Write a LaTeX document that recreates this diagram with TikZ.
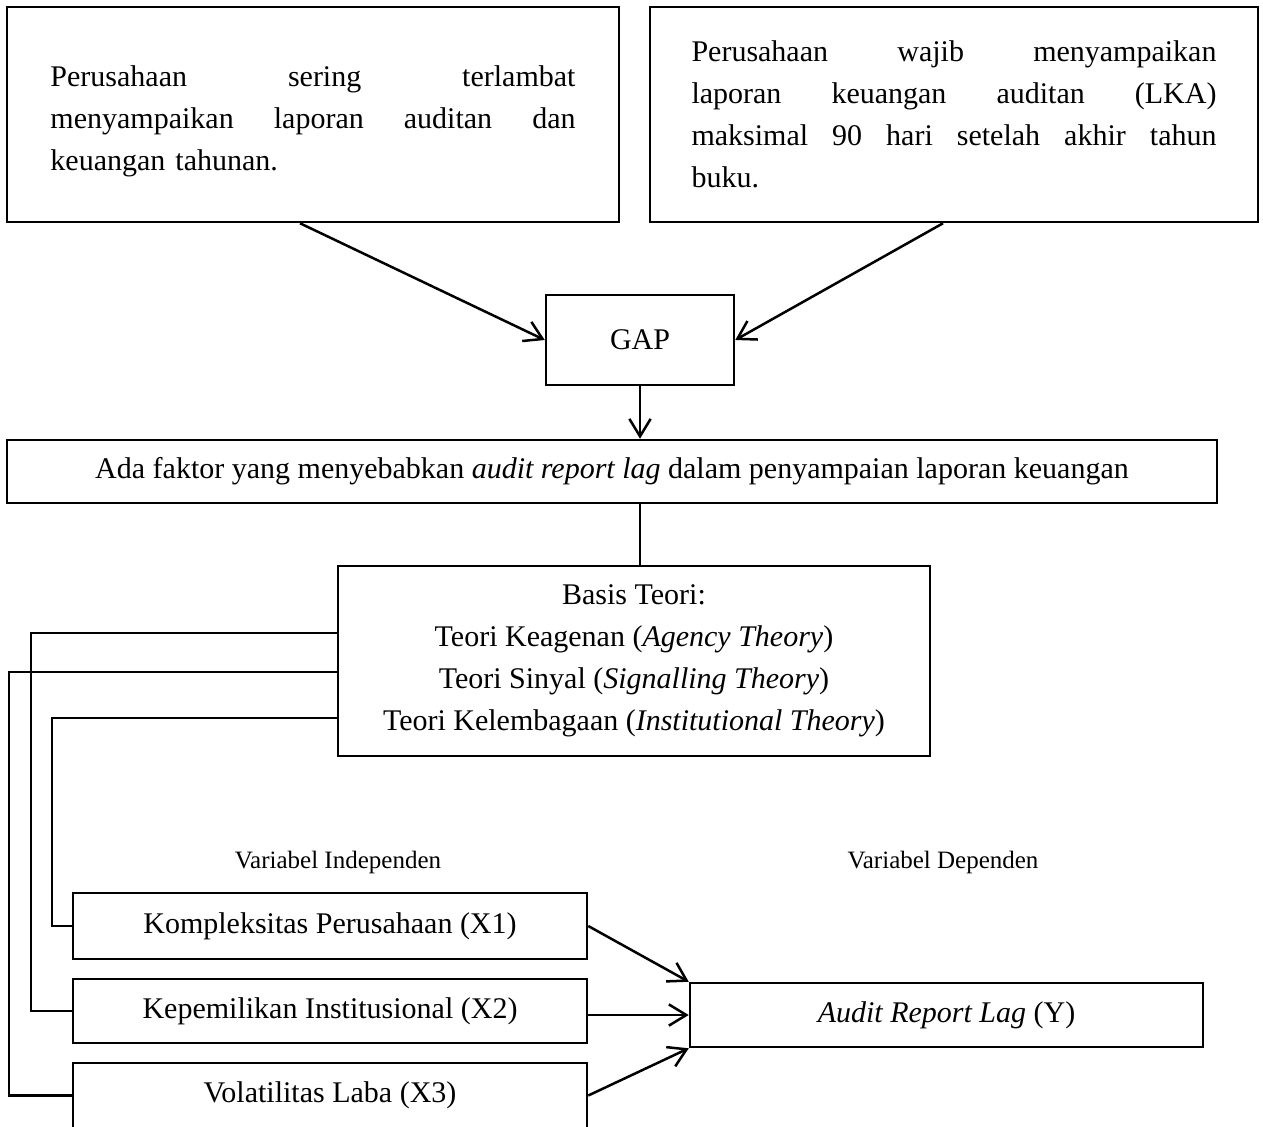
\documentclass[tikz,border=0pt]{standalone}
\usepackage{fontspec}
\setmainfont{Liberation Serif}
\usetikzlibrary{arrows.meta}

\begin{document}
\begin{tikzpicture}[x=0.4pt,y=-0.4pt,line width=1pt,
        kotak/.style={draw,inner sep=0pt,align=center,font=\fontsize{12}{16.8}\selectfont},
        paragraf/.style={kotak,text width=210pt,align=left},
        label/.style={font=\fontsize{10}{12}\selectfont},
        panah/.style={-{Straight Barb[length=7pt,width=8.5pt]}}]
    \useasboundingbox (0,0) rectangle (1263,1126);
    \node[paragraf,minimum width=244.8pt,minimum height=86pt] (masalah) at (313,114.5)
        {\rule{0pt}{14pt}Perusahaan\hfill sering\hfill terlambat\\
         menyampaikan\hfill laporan\hfill auditan\hfill dan\\
         keuangan tahunan.};
    \node[paragraf,minimum width=243.2pt,minimum height=86pt] (aturan) at (954,114.5)
        {Perusahaan\hfill wajib\hfill menyampaikan\\
         laporan\hfill keuangan\hfill auditan\hfill (LKA)\\
         maksimal\hfill 90\hfill hari\hfill setelah\hfill akhir\hfill tahun\\
         buku.};
    \node[kotak,minimum width=75.2pt,minimum height=36pt] (gap) at (640,340) {GAP};
    \node[kotak,minimum width=484pt,minimum height=25.2pt] (faktor) at (612,471.5)
        {Ada faktor yang menyebabkan \textit{audit report lag} dalam penyampaian laporan keuangan};
    \node[kotak,minimum width=236.8pt,minimum height=76pt] (teori) at (634,661)
        {Basis Teori:\\
         Teori Keagenan (\textit{Agency Theory})\\
         Teori Sinyal (\textit{Signalling Theory})\\
         Teori Kelembagaan (\textit{Institutional Theory})};
    \node[label] (indep) at (338,862) {Variabel Independen};
    \node[label] (dep) at (943,862) {Variabel Dependen};
    \node[kotak,minimum width=205.6pt,minimum height=26.4pt] (x1) at (330,926) {Kompleksitas Perusahaan (X1)};
    \node[kotak,minimum width=205.6pt,minimum height=25.6pt] (x2) at (330,1011) {Kepemilikan Institusional (X2)};
    \node[kotak,minimum width=205.6pt,minimum height=26pt] (x3) at (330,1095.5) {Volatilitas Laba (X3)};
    \node[kotak,minimum width=205.2pt,minimum height=25.6pt] (y) at (946.5,1015) {\textit{Audit Report Lag} (Y)};

    \draw[panah] (masalah.south) ++(-13,0) -- (gap.west);
    \draw[panah] (aturan.south) ++(-11,0) -- (gap.east);
    \draw[panah] (gap.south) -- (gap.south |- faktor.north);
    \draw (gap.south |- faktor.south) -- (gap.south |- teori.north);

    \draw (teori.west |- 0,633) -- (31,633) |- (x2.west);
    \draw (teori.west |- 0,672) -- (9,672) |- (x3.west);
    \draw (teori.west |- 0,718) -- (52,718) |- (x1.west);

    \draw[panah] (x1.east) -- (y.north west);
    \draw[panah] (x2.east |- y.west) -- (y.west);
    \draw[panah] (x3.east) -- (y.south west);
\end{tikzpicture}
\end{document}
